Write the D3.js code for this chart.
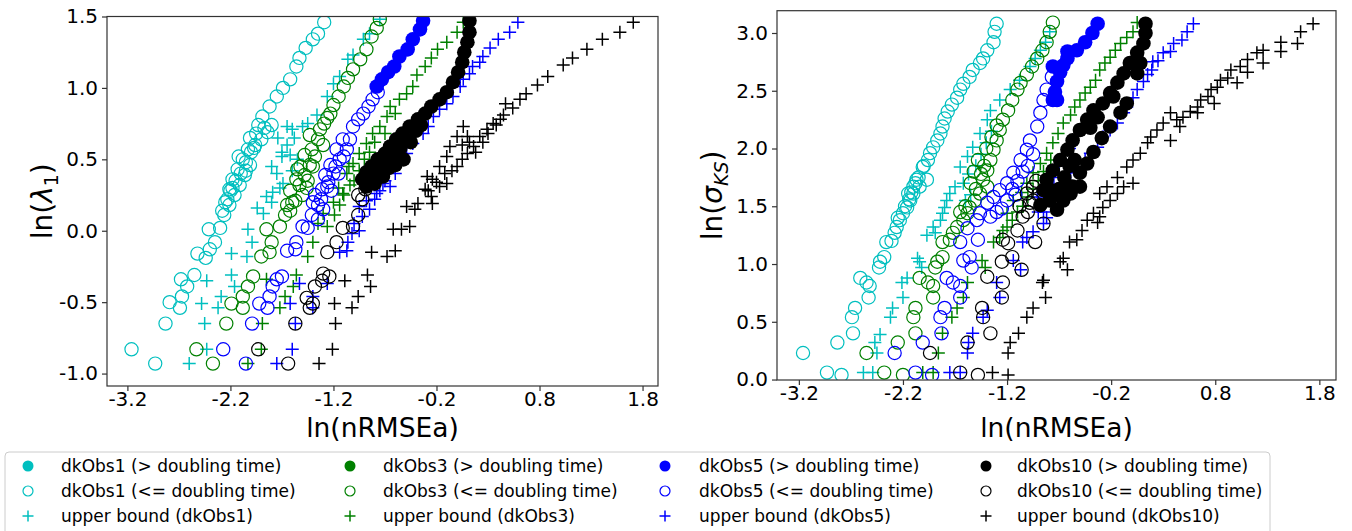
<!DOCTYPE html>
<html><head><meta charset="utf-8">
<script src="https://cdn.jsdelivr.net/npm/d3@7"></script>
<style>body{margin:0;background:#fff;} svg{display:block;font-family:"DejaVu Sans",sans-serif;}</style>
</head><body><svg id="c" width="1352" height="531"></svg>
<script>
// ---------- tick labels ----------
const xTicks = [-3.2,-2.2,-1.2,-0.2,0.8,1.8];
const yTicksL = [-1.0,-0.5,0.0,0.5,1.0,1.5];
const yTicksR = [0.0,0.5,1.0,1.5,2.0,2.5,3.0];
const groups = ["dkObs1","dkObs3","dkObs5","dkObs10"];
const groupColors = ["#00bfbf","#008000","#0000ff","#000000"];

// ---------- left panel: ln(lambda1) vs ln(nRMSEa) ----------
const L_c_fill = [];
const L_c_open = [[-3.16,-0.83],[-2.93,-0.93],[-2.83,-0.65],[-2.79,-0.50],[-2.69,-0.54],[-2.67,-0.46],[-2.68,-0.34],[-2.62,-0.39],[-2.55,-0.31],[-2.52,-0.16],[-2.44,-0.19],[-2.40,-0.13],[-2.35,-0.08],[-2.41,0.01],[-2.30,0.02],[-2.26,0.11],[-2.21,0.18],[-2.21,0.29],[-2.28,0.14],[-2.23,0.22],[-2.16,0.25],[-2.11,0.32],[-2.18,0.36],[-2.06,0.39],[-2.13,0.43],[-2.01,0.46],[-2.08,0.50],[-2.03,0.57],[-1.96,0.60],[-2.01,0.65],[-1.90,0.64],[-1.84,0.69],[-1.93,0.74],[-1.80,0.74],[-1.89,0.80],[-1.82,0.87],[-1.75,0.94],[-1.69,1.00],[-1.62,1.06],[-1.56,1.15],[-1.53,1.21],[-1.47,1.28],[-1.40,1.34],[-1.35,1.38],[-1.29,1.46],[-2.25,0.20],[-2.20,0.28],[-2.15,0.35],[-2.10,0.40],[-2.05,0.48],[-2.12,0.52],[-2.00,0.55],[-2.18,0.30],[-2.05,0.42],[-1.95,0.68],[-1.87,0.72],[-1.97,0.58]];
const L_c_plus = [[-2.60,-0.93],[-2.43,-0.83],[-2.45,-0.65],[-2.48,-0.51],[-2.32,-0.54],[-2.43,-0.35],[-2.29,-0.46],[-2.19,-0.31],[-2.16,-0.39],[-2.19,-0.16],[-2.04,-0.18],[-1.99,-0.08],[-2.03,0.01],[-1.94,0.16],[-1.85,0.24],[-1.79,0.27],[-1.69,0.33],[-1.75,0.40],[-1.74,0.65],[-1.70,0.55],[-1.62,0.53],[-1.80,0.45],[-1.70,0.52],[-1.65,0.73],[-1.60,0.71],[-1.50,0.73],[-1.36,0.81],[-1.26,0.94],[-1.20,1.03],[-1.14,1.08],[-1.06,1.20],[-1.01,1.23],[-0.91,1.34],[-0.85,1.38],[-0.75,1.48],[-1.88,0.12],[-1.80,0.20],[-1.72,0.30],[-1.60,0.42],[-1.55,0.50],[-1.65,0.60],[-1.58,0.65],[-1.45,0.75]];
const L_g_fill = [];
const L_g_open = [[-2.53,-0.83],[-2.37,-0.93],[-2.24,-0.65],[-2.19,-0.51],[-2.08,-0.54],[-2.08,-0.46],[-2.03,-0.39],[-1.98,-0.32],[-1.90,-0.18],[-1.82,-0.15],[-1.80,-0.08],[-1.85,0.01],[-1.72,0.03],[-1.67,0.11],[-1.62,0.14],[-1.57,0.21],[-1.62,0.28],[-1.53,0.32],[-1.48,0.39],[-1.55,0.43],[-1.43,0.46],[-1.48,0.53],[-1.41,0.57],[-1.35,0.64],[-1.43,0.67],[-1.33,0.71],[-1.29,0.75],[-1.26,0.79],[-1.23,0.82],[-1.20,0.88],[-1.15,0.94],[-1.10,1.01],[-1.06,1.07],[-1.01,1.13],[-0.94,1.20],[-0.88,1.27],[-0.83,1.36],[-0.78,1.42],[-0.75,1.48],[-1.60,0.20],[-1.50,0.25],[-1.45,0.35],[-1.40,0.45],[-1.38,0.52],[-1.30,0.60],[-1.52,0.45],[-1.46,0.30],[-1.56,0.36],[-1.65,0.18]];
const L_g_plus = [[-2.03,-0.93],[-1.90,-0.83],[-1.89,-0.65],[-1.85,-0.34],[-1.72,-0.54],[-1.67,-0.46],[-1.59,-0.39],[-1.56,-0.31],[-1.45,-0.18],[-1.40,-0.08],[-1.26,0.03],[-1.19,0.11],[-1.11,0.26],[-1.14,0.18],[-1.04,0.32],[-1.07,0.40],[-1.01,0.47],[-0.95,0.54],[-0.88,0.61],[-0.82,0.68],[-0.75,0.73],[-0.68,0.80],[-0.65,0.87],[-0.56,0.92],[-0.49,0.96],[-0.43,1.01],[-0.39,1.09],[-0.31,1.15],[-0.25,1.21],[-0.19,1.27],[-0.10,1.32],[0.00,1.39],[0.06,1.46],[-1.20,0.20],[-1.10,0.25],[-1.00,0.35],[-0.95,0.42],[-0.90,0.50],[-1.05,0.45],[-0.85,0.55],[-0.80,0.62],[-1.15,0.30],[-1.30,0.12],[-1.35,0.05],[-0.70,0.68],[-0.60,0.82]];
const L_b_fill = [[-0.33,1.47],[-0.36,1.41],[-0.43,1.34],[-0.48,1.27],[-0.56,1.22],[-0.61,1.15],[-0.67,1.11],[-0.73,1.06],[-0.78,1.01]];
const L_b_open = [[-2.27,-0.83],[-2.05,-0.93],[-1.99,-0.65],[-1.92,-0.51],[-1.84,-0.54],[-1.82,-0.46],[-1.79,-0.39],[-1.75,-0.34],[-1.70,-0.32],[-1.65,-0.14],[-1.57,-0.13],[-1.56,-0.08],[-1.50,0.03],[-1.45,0.02],[-1.41,0.11],[-1.35,0.18],[-1.38,0.25],[-1.31,0.29],[-1.26,0.31],[-1.28,0.39],[-1.20,0.40],[-1.23,0.46],[-1.14,0.50],[-1.17,0.57],[-1.07,0.57],[-1.11,0.64],[-1.04,0.64],[-1.01,0.73],[-0.96,0.78],[-0.91,0.82],[-0.86,0.87],[-0.82,0.92],[-0.77,0.97],[-1.40,0.20],[-1.32,0.22],[-1.25,0.34],[-1.18,0.45],[-1.10,0.52],[-1.30,0.15],[-1.22,0.28],[-1.15,0.40],[-1.35,0.08]];
const L_b_plus = [[-1.75,-0.93],[-1.60,-0.83],[-1.57,-0.65],[-1.62,-0.51],[-1.53,-0.37],[-1.40,-0.54],[-1.40,-0.46],[-1.26,-0.37],[-1.14,-0.15],[-1.07,-0.14],[-1.06,-0.08],[-0.95,0.17],[-0.88,0.21],[-0.78,0.26],[-0.72,0.33],[-0.65,0.31],[-0.60,0.40],[-0.56,0.47],[-0.49,0.54],[-0.43,0.61],[-0.33,0.68],[-0.28,0.73],[-0.23,0.80],[-0.17,0.85],[-0.10,0.89],[-0.04,0.94],[0.03,1.01],[0.06,1.06],[0.12,1.10],[0.15,1.15],[0.22,1.18],[0.25,1.22],[0.32,1.28],[0.40,1.34],[0.51,1.39],[0.59,1.46],[-1.00,0.05],[-0.92,0.10],[-0.85,0.15],[-0.80,0.22],[-0.75,0.28],[-0.95,0.00],[-1.02,-0.02],[-0.70,0.35]];
const L_k_fill = [[0.12,1.47],[0.12,1.39],[0.10,1.32],[0.07,1.25],[0.05,1.18],[0.01,1.11],[-0.04,1.04],[-0.10,0.97],[-0.17,0.92],[-0.25,0.87],[-0.31,0.82],[-0.38,0.78],[-0.46,0.73],[-0.53,0.68],[-0.59,0.64],[-0.65,0.59],[-0.70,0.54],[-0.77,0.50],[-0.83,0.45],[-0.88,0.41],[-0.92,0.36],[-0.55,0.58],[-0.48,0.63],[-0.40,0.70],[-0.62,0.52],[-0.70,0.45],[-0.78,0.40],[-0.85,0.35],[-0.88,0.31],[-0.60,0.46],[-0.52,0.50],[-0.72,0.38],[-0.66,0.44],[-0.80,0.33],[-0.45,0.62],[-0.35,0.74]];
const L_k_open = [[-1.93,-0.83],[-1.64,-0.93],[-1.57,-0.65],[-1.46,-0.47],[-1.43,-0.54],[-1.40,-0.51],[-1.38,-0.39],[-1.31,-0.35],[-1.30,-0.30],[-1.24,-0.32],[-1.26,-0.15],[-1.17,-0.08],[-1.11,0.02],[-1.01,0.03],[-0.96,0.11],[-0.92,0.22],[-0.96,0.25],[-0.89,0.29]];
const L_k_plus = [[-1.34,-0.93],[-1.21,-0.83],[-1.18,-0.65],[-1.19,-0.51],[-1.02,-0.54],[-0.96,-0.46],[-1.09,-0.35],[-0.84,-0.39],[-0.87,-0.31],[-0.83,-0.15],[-0.68,-0.18],[-0.60,-0.14],[-0.62,0.01],[-0.54,0.01],[-0.46,0.03],[-0.49,0.17],[-0.41,0.15],[-0.38,0.19],[-0.31,0.29],[-0.25,0.24],[-0.24,0.19],[-0.17,0.31],[-0.10,0.33],[-0.29,0.38],[-0.24,0.36],[-0.17,0.45],[-0.10,0.52],[-0.07,0.59],[0.00,0.66],[0.06,0.73],[0.10,0.54],[0.16,0.59],[0.22,0.66],[0.29,0.71],[0.35,0.75],[0.45,0.81],[0.47,0.89],[0.54,0.86],[0.61,0.92],[0.67,0.96],[0.78,1.02],[0.88,1.08],[1.03,1.16],[1.12,1.21],[1.26,1.27],[1.41,1.34],[1.58,1.39],[1.71,1.46],[0.00,0.45],[0.05,0.50],[-0.05,0.42],[0.12,0.62],[0.18,0.55],[0.25,0.62],[0.30,0.68],[0.38,0.74],[0.42,0.78],[0.05,0.60],[0.10,0.66],[-0.12,0.40],[-0.20,0.34],[-0.28,0.28]];

// ---------- right panel: ln(sigma_KS) vs ln(nRMSEa) ----------
const R_c_fill = [];
const R_c_open = [[-3.16,0.23],[-2.93,0.06],[-2.79,0.04],[-2.83,0.32],[-2.68,0.40],[-2.69,0.54],[-2.66,0.62],[-2.53,0.71],[-2.61,0.88],[-2.55,0.84],[-2.52,0.81],[-2.42,1.02],[-2.38,1.06],[-2.43,0.97],[-2.36,1.19],[-2.31,1.20],[-2.28,1.27],[-2.26,1.32],[-2.23,1.38],[-2.20,1.44],[-2.16,1.49],[-2.13,1.55],[-2.10,1.61],[-2.04,1.67],[-1.97,1.73],[-2.01,1.84],[-2.07,1.73],[-2.10,1.67],[-2.15,1.61],[-1.94,1.96],[-1.91,2.01],[-1.87,2.07],[-1.84,2.13],[-1.82,2.19],[-1.80,2.26],[-1.77,2.32],[-1.73,2.38],[-1.68,2.44],[-1.65,2.51],[-1.62,2.56],[-1.56,2.62],[-1.53,2.68],[-1.46,2.74],[-1.43,2.78],[-1.39,2.85],[-1.33,2.92],[-1.32,3.01],[-1.30,3.08],[-2.25,1.40],[-2.18,1.50],[-2.12,1.62],[-2.05,1.75],[-2.00,1.85],[-1.96,1.90],[-2.08,1.70],[-2.14,1.56]];
const R_c_plus = [[-2.58,0.06],[-2.49,0.06],[-2.45,0.23],[-2.47,0.32],[-2.42,0.39],[-2.32,0.54],[-2.30,0.62],[-2.20,0.71],[-2.21,0.84],[-2.16,0.88],[-2.06,1.05],[-2.04,1.02],[-2.02,0.97],[-1.97,1.25],[-1.91,1.32],[-1.89,1.27],[-1.84,1.38],[-1.82,1.44],[-1.80,1.49],[-1.78,1.55],[-1.75,1.61],[-1.70,1.67],[-1.65,1.84],[-1.58,1.93],[-1.53,2.01],[-1.46,2.13],[-1.39,2.25],[-1.36,2.33],[-1.27,2.42],[-1.17,2.51],[-1.08,2.59],[-0.98,2.71],[-0.93,2.78],[-0.88,2.85],[-0.83,2.92],[-0.79,3.01],[-1.62,1.70],[-1.57,1.78],[-1.50,1.85],[-1.45,1.95],[-1.40,2.05],[-1.55,1.60],[-1.60,1.55],[-1.35,2.15]];
const R_g_fill = [];
const R_g_open = [[-2.55,0.23],[-2.38,0.06],[-2.20,0.04],[-2.25,0.32],[-2.08,0.40],[-2.10,0.54],[-2.08,0.62],[-1.91,0.71],[-2.04,0.88],[-1.96,0.84],[-1.91,0.81],[-1.87,1.02],[-1.82,1.06],[-1.89,0.97],[-1.82,1.19],[-1.75,1.21],[-1.72,1.27],[-1.68,1.32],[-1.62,1.38],[-1.58,1.44],[-1.56,1.49],[-1.51,1.55],[-1.46,1.61],[-1.39,1.67],[-1.43,1.73],[-1.39,1.81],[-1.36,1.90],[-1.33,1.99],[-1.30,2.07],[-1.27,2.16],[-1.24,2.25],[-1.19,2.33],[-1.15,2.42],[-1.10,2.51],[-1.07,2.57],[-1.01,2.64],[-0.96,2.71],[-0.91,2.78],[-0.86,2.85],[-0.82,2.92],[-0.79,3.01],[-0.76,3.09],[-1.50,1.65],[-1.45,1.78],[-1.42,1.85],[-1.55,1.70],[-1.48,1.90],[-1.40,2.00],[-1.35,2.10],[-1.30,2.20],[-1.60,1.50],[-1.65,1.45],[-1.52,1.80]];
const R_g_plus = [[-2.01,0.06],[-1.91,0.06],[-1.86,0.23],[-1.82,0.40],[-1.73,0.54],[-1.68,0.62],[-1.62,0.71],[-1.58,0.84],[-1.44,1.03],[-1.41,0.97],[-1.33,1.19],[-1.27,1.23],[-1.24,1.29],[-1.20,1.44],[-1.14,1.55],[-1.06,1.62],[-1.01,1.70],[-0.95,1.79],[-0.88,1.87],[-0.82,1.96],[-0.76,2.05],[-0.71,2.13],[-0.66,2.22],[-0.59,2.29],[-0.55,2.36],[-0.50,2.42],[-0.45,2.48],[-0.40,2.53],[-0.35,2.59],[-0.31,2.68],[-0.26,2.74],[-0.21,2.79],[-0.16,2.85],[-0.11,2.91],[-0.05,2.96],[0.01,3.01],[0.05,3.09],[-1.10,1.45],[-1.05,1.50],[-1.00,1.58],[-0.95,1.65],[-0.90,1.72],[-1.15,1.38],[-1.20,1.32],[-0.85,1.80],[-0.78,1.90]];
const R_b_fill = [[-0.33,3.08],[-0.38,3.00],[-0.45,2.92],[-0.53,2.85],[-0.62,2.78],[-0.66,2.72],[-0.69,2.66],[-0.72,2.58],[-0.74,2.49],[-0.72,2.42],[-0.76,2.71],[-0.76,2.42],[-0.62,2.84]];
const R_b_open = [[-2.28,0.23],[-2.08,0.06],[-1.92,0.04],[-2.01,0.32],[-1.83,0.40],[-1.84,0.54],[-1.80,0.62],[-1.65,0.71],[-1.78,0.88],[-1.72,0.84],[-1.65,0.81],[-1.62,1.03],[-1.54,0.97],[-1.56,1.06],[-1.65,1.19],[-1.48,1.21],[-1.58,1.31],[-1.49,1.38],[-1.46,1.44],[-1.36,1.41],[-1.39,1.53],[-1.33,1.58],[-1.27,1.64],[-1.20,1.70],[-1.14,1.79],[-1.07,1.90],[-1.01,1.99],[-0.98,2.07],[-0.91,2.19],[-0.88,2.31],[-0.85,2.42],[-0.82,2.51],[-0.77,2.62],[-1.20,1.55],[-1.15,1.65],[-1.10,1.72],[-1.05,1.80],[-1.25,1.48],[-1.30,1.45],[-1.00,1.85],[-0.95,1.95],[-1.12,1.60]];
const R_b_plus = [[-1.65,0.06],[-1.75,0.06],[-1.58,0.23],[-1.57,0.32],[-1.53,0.40],[-1.43,0.54],[-1.39,0.60],[-1.27,0.71],[-1.30,0.84],[-1.14,1.03],[-1.07,0.95],[-1.05,1.19],[-1.01,1.23],[-0.95,1.28],[-0.85,1.35],[-0.91,1.58],[-0.79,1.61],[-0.72,1.61],[-0.66,1.70],[-0.59,1.79],[-0.53,1.84],[-0.45,1.90],[-0.40,1.96],[-0.33,2.01],[-0.28,2.10],[-0.21,2.16],[-0.14,2.22],[-0.08,2.31],[-0.05,2.36],[0.01,2.44],[0.05,2.51],[0.11,2.58],[0.15,2.64],[0.19,2.68],[0.20,2.75],[0.25,2.76],[0.30,2.83],[0.37,2.84],[0.40,2.91],[0.48,2.94],[0.53,3.01],[0.59,3.08],[-0.85,1.45],[-0.80,1.55],[-0.75,1.75],[-0.70,1.85],[-0.65,1.90],[-0.60,2.00],[-0.82,1.40],[-0.90,1.45]];
const R_k_fill = [[0.13,3.08],[0.13,3.00],[0.11,2.91],[0.08,2.74],[0.05,2.83],[0.05,2.65],[-0.02,2.74],[-0.08,2.65],[-0.14,2.57],[-0.18,2.45],[-0.21,2.48],[-0.28,2.39],[-0.05,2.39],[-0.11,2.31],[-0.21,2.19],[-0.29,2.09],[-0.33,2.27],[-0.37,2.33],[-0.37,1.97],[-0.40,2.18],[-0.43,2.25],[-0.43,1.87],[-0.50,2.16],[-0.50,1.79],[-0.57,2.07],[-0.57,1.67],[-0.62,1.99],[-0.69,1.90],[-0.76,1.81],[-0.82,1.73],[-0.85,1.64],[-0.50,1.67],[-0.59,1.61],[-0.79,1.55],[-0.72,1.47],[-0.88,1.51],[-0.65,1.75],[-0.70,1.65],[-0.75,1.60],[-0.60,1.85],[-0.55,1.90],[-0.80,1.65],[-0.66,1.55],[-0.62,1.68]];
const R_k_open = [[-1.94,0.23],[-1.65,0.06],[-1.48,0.04],[-1.58,0.32],[-1.36,0.40],[-1.44,0.62],[-1.43,0.54],[-1.25,0.71],[-1.24,0.84],[-1.39,0.89],[-1.06,0.95],[-1.25,1.02],[-1.15,1.06],[-0.93,1.19],[-1.19,1.18],[-1.24,1.21],[-1.10,1.29],[-1.05,1.41],[-0.98,1.53],[-0.85,1.35],[-1.01,1.61],[-0.95,1.67],[-1.00,1.45],[-0.95,1.55],[-0.90,1.60],[-1.08,1.50],[-0.92,1.72]];
const R_k_plus = [[-1.34,0.06],[-1.19,0.04],[-1.19,0.23],[-1.17,0.32],[-1.09,0.40],[-1.01,0.54],[-0.95,0.62],[-0.83,0.71],[-0.86,0.84],[-0.85,0.86],[-0.69,1.02],[-0.62,0.95],[-0.66,1.05],[-0.60,1.19],[-0.53,1.21],[-0.48,1.29],[-0.43,1.38],[-0.37,1.44],[-0.33,1.36],[-0.31,1.41],[-0.28,1.49],[-0.21,1.55],[-0.14,1.61],[-0.08,1.67],[0.01,1.70],[-0.31,1.61],[-0.24,1.67],[-0.14,1.75],[-0.05,1.84],[0.01,1.90],[0.08,1.96],[0.15,2.05],[0.18,2.10],[0.24,2.16],[0.30,2.22],[0.37,2.31],[0.37,2.07],[0.43,2.25],[0.46,2.19],[0.49,2.27],[0.56,2.32],[0.63,2.36],[0.63,2.31],[0.66,2.42],[0.73,2.45],[0.76,2.51],[0.79,2.39],[0.82,2.53],[0.85,2.59],[0.92,2.61],[0.95,2.68],[1.01,2.57],[1.04,2.71],[1.11,2.77],[1.11,2.66],[1.20,2.83],[1.26,2.85],[1.26,2.74],[1.43,2.92],[1.43,2.84],[1.59,2.91],[1.62,3.01],[1.74,3.08]];

// ---------- build ----------
const svg = d3.select("#c");
const defs = svg.append("defs");
const fmt = d => d.toFixed(1);

function seriesList(p){
  return [
    {d:p.c_fill,g:0,t:"fill"},{d:p.c_open,g:0,t:"open"},{d:p.c_plus,g:0,t:"plus"},
    {d:p.g_fill,g:1,t:"fill"},{d:p.g_open,g:1,t:"open"},{d:p.g_plus,g:1,t:"plus"},
    {d:p.b_fill,g:2,t:"fill"},{d:p.b_open,g:2,t:"open"},{d:p.b_plus,g:2,t:"plus"},
    {d:p.k_fill,g:3,t:"fill"},{d:p.k_open,g:3,t:"open"},{d:p.k_plus,g:3,t:"plus"}
  ];
}

function drawMarks(sel, data, type, color, x, y, r){
  if(type==="fill"){
    sel.selectAll("circle").data(data).join("circle")
      .attr("cx",d=>x(d[0])).attr("cy",d=>y(d[1])).attr("r",r.fill).attr("fill",color);
  } else if(type==="open"){
    sel.selectAll("circle").data(data).join("circle")
      .attr("cx",d=>x(d[0])).attr("cy",d=>y(d[1])).attr("r",r.open)
      .attr("fill","none").attr("stroke",color).attr("stroke-width",1.2);
  } else {
    const h=r.plus;
    sel.selectAll("path").data(data).join("path")
      .attr("d",`M${-h},0H${h}M0,${-h}V${h}`)
      .attr("transform",d=>`translate(${x(d[0])},${y(d[1])})`)
      .attr("stroke",color).attr("stroke-width",1.5).attr("fill","none");
  }
}

function panel(cfg){
  const x = d3.scaleLinear().domain(cfg.xd).range([cfg.x0,cfg.x1]);
  const y = d3.scaleLinear().domain(cfg.yd).range([cfg.y1,cfg.y0]);
  defs.append("clipPath").attr("id",cfg.id).append("rect")
    .attr("x",cfg.x0).attr("y",cfg.y0).attr("width",cfg.x1-cfg.x0).attr("height",cfg.y1-cfg.y0);
  const plot = svg.append("g").attr("clip-path",`url(#${cfg.id})`);
  seriesList(cfg.data).forEach(s=>{
    drawMarks(plot.append("g"), s.d, s.t, groupColors[s.g], x, y, {fill:7.3,open:6.6,plus:6.5});
  });
  svg.append("rect").attr("x",cfg.x0).attr("y",cfg.y0).attr("width",cfg.x1-cfg.x0).attr("height",cfg.y1-cfg.y0)
    .attr("fill","none").attr("stroke","#333").attr("stroke-width",1.2);
  const ax = svg.append("g").attr("transform",`translate(0,${cfg.y1})`)
    .call(d3.axisBottom(x).tickValues(xTicks).tickFormat(fmt).tickSize(5).tickPadding(1).tickSizeOuter(0));
  const ay = svg.append("g").attr("transform",`translate(${cfg.x0},0)`)
    .call(d3.axisLeft(y).tickValues(cfg.yt).tickFormat(fmt).tickSize(5).tickPadding(4).tickSizeOuter(0));
  [ax,ay].forEach(a=>{
    a.select(".domain").remove();
    a.selectAll("line").attr("stroke","#333").attr("stroke-width",1.2);
    a.selectAll("text").attr("font-size",20).attr("fill","#000").attr("font-family","DejaVu Sans");
  });
  svg.append("text").attr("x",(cfg.x0+cfg.x1)/2).attr("y",437).attr("text-anchor","middle")
    .attr("font-size",26.5).text("ln(nRMSEa)");
  const yl = svg.append("text").attr("transform",`translate(${cfg.ylx},${(cfg.y0+cfg.y1)/2}) rotate(-90)`)
    .attr("text-anchor","middle").attr("font-size",28);
  yl.append("tspan").text("ln(");
  yl.append("tspan").attr("font-style","italic").text(cfg.sym);
  yl.append("tspan").attr("font-size",19).attr("dy",6).attr("font-style",cfg.subItalic?"italic":"normal").text(cfg.sub);
  yl.append("tspan").attr("dy",-6).text(")");
}

panel({id:"clipL",x0:107,x1:658,y0:16.5,y1:386,xd:[-3.398,1.95],yd:[-1.087,1.5],yt:yTicksL,
  ylx:52,sym:"λ",sub:"1",subItalic:false,
  data:{c_fill:L_c_fill,c_open:L_c_open,c_plus:L_c_plus,g_fill:L_g_fill,g_open:L_g_open,g_plus:L_g_plus,
        b_fill:L_b_fill,b_open:L_b_open,b_plus:L_b_plus,k_fill:L_k_fill,k_open:L_k_open,k_plus:L_k_plus}});
panel({id:"clipR",x0:777,x1:1336,y0:10.7,y1:380,xd:[-3.41,1.96],yd:[-0.004,3.193],yt:yTicksR,
  ylx:722,sym:"σ",sub:"KS",subItalic:true,
  data:{c_fill:R_c_fill,c_open:R_c_open,c_plus:R_c_plus,g_fill:R_g_fill,g_open:R_g_open,g_plus:R_g_plus,
        b_fill:R_b_fill,b_open:R_b_open,b_plus:R_b_plus,k_fill:R_k_fill,k_open:R_k_open,k_plus:R_k_plus}});

// ---------- legend ----------
const legX = [28,350,665,986], legTX = [61,383,699,1017], legY = [466,491,516];
const legTypes = ["fill","open","plus"];
const legLabel = (g,t)=> t==="fill" ? `${groups[g]} (> doubling time)` : t==="open" ? `${groups[g]} (<= doubling time)` : `upper bound (${groups[g]})`;
svg.append("rect").attr("x",5).attr("y",452).attr("width",1265).attr("height",100).attr("rx",4)
  .attr("fill","#fff").attr("fill-opacity",0.8).attr("stroke","#cccccc").attr("stroke-width",1);
groups.forEach((gname,gi)=>{
  legTypes.forEach((t,ti)=>{
    const g = svg.append("g");
    const lx = d3.scaleLinear().domain([0,1]).range([legX[gi],legX[gi]+1]);
    const ly = d3.scaleLinear().domain([0,1]).range([legY[ti],legY[ti]+1]);
    drawMarks(g,[[0,0]],t,groupColors[gi],lx,ly,{fill:5.5,open:5,plus:5.5});
    svg.append("text").attr("x",legTX[gi]).attr("y",legY[ti]).attr("dy","0.36em")
      .attr("font-size",17).text(legLabel(gi,t));
  });
});
</script></body></html>
